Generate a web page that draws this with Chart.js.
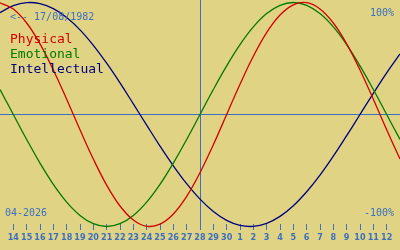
<!DOCTYPE html>
<html>
<head>
<meta charset="utf-8">
<script src="https://cdn.jsdelivr.net/npm/chart.js@4"></script>
<style>
body{margin:0;background:#e0d384;}
#wrap{position:relative;width:400px;height:250px;overflow:hidden;background:#e0d384;}
#graph{position:absolute;left:0;top:0;}
.txt{position:absolute;font-family:'DejaVu Sans Mono',monospace;font-size:10px;line-height:1;white-space:pre;color:#3b6fc2;}
#legend .txt{font-size:13px;}
</style>
</head>
<body>
<div id="wrap">
  <canvas id="graph" width="400" height="250"></canvas>
  <div class="txt" style="left:10px;top:12px">&lt;-- 17/08/1982</div>
  <div class="txt" style="right:6px;top:7.5px">100%</div>
  <div class="txt" style="right:6px;top:207.5px">-100%</div>
  <div class="txt" style="left:5px;top:207.5px">04-2026</div>
  <div id="legend"></div>
</div>
<script>
// days shown: 13 April .. 13 May 2026
const dayLabels = ['13','14','15','16','17','18','19','20','21','22','23','24','25','26','27','28','29','30',
    '1','2','3','4','5','6','7','8','9','10','11','12','13'];
const today = '28';

const physical = [0.998, 0.942, 0.817, 0.631, 0.398, 0.136, -0.136, -0.398, -0.631, -0.817, -0.942, -0.998,
    -0.979, -0.888, -0.731, -0.520, -0.270, 0, 0.270, 0.520, 0.731, 0.888, 0.979, 0.998, 0.942, 0.817,
    0.631, 0.398, 0.136, -0.136, -0.398];
const emotional = [0.223, 0, -0.223, -0.434, -0.624, -0.782, -0.901, -0.975, -1, -0.975, -0.901, -0.782,
    -0.624, -0.434, -0.223, 0, 0.223, 0.434, 0.624, 0.782, 0.901, 0.975, 1, 0.975, 0.901, 0.782, 0.624,
    0.434, 0.223, 0, -0.223];
const intellectual = [0.910, 0.972, 0.999, 0.990, 0.945, 0.866, 0.756, 0.618, 0.458, 0.282, 0.095, -0.095,
    -0.282, -0.458, -0.618, -0.756, -0.866, -0.945, -0.990, -0.999, -0.972, -0.910, -0.815, -0.690, -0.541,
    -0.372, -0.189, 0, 0.189, 0.372, 0.541];

const blue = '#3b6fc2';
const todayIdx = dayLabels.indexOf(today);

function line(label, data, color){
    return {
        label,
        data,
        borderColor: color,
        borderWidth: 1.3,
        pointRadius: 0,
        tension: 0.4,
        clip: false
    };
}

const canvas = document.querySelector('#graph');
const chart = new Chart(canvas.getContext('2d'), {
    type: 'line',
    data: {
        labels: dayLabels,
        datasets: [
            line('Physical', physical, '#d40000'),
            line('Emotional', emotional, '#007a00'),
            line('Intellectual', intellectual, '#00007f')
        ]
    },
    options: {
        responsive: false,
        animation: false,
        devicePixelRatio: 1,
        layout: {padding: 0},
        plugins: {legend: {display: false}, tooltip: {enabled: false}},
        scales: {
            x: {
                offset: false,
                border: {display: false},
                grid: {
                    color: c => (c.tick && c.tick.value === todayIdx) ? blue : 'rgba(0,0,0,0)',
                    tickColor: blue,
                    tickLength: 6,
                    lineWidth: 1
                },
                ticks: {
                    autoSkip: false,
                    maxRotation: 0,
                    padding: 2,
                    color: blue,
                    font: {family: 'DejaVu Sans Condensed', size: 9, weight: 'bold'}
                },
                afterBuildTicks: s => { s.ticks = s.ticks.slice(1, -1); },
                afterFit: s => { s.height = 26; }
            },
            y: {
                min: -0.9777,
                max: 1.0223,
                border: {display: false},
                grid: {color: blue, drawTicks: false, lineWidth: 1},
                ticks: {display: false},
                afterBuildTicks: s => { s.ticks = [{value: 0}]; },
                afterFit: s => { s.width = 0; }
            }
        }
    }
});

// series names, in the colour of each line
const legend = document.querySelector('#legend');
chart.data.datasets.forEach((ds, i) => {
    const el = document.createElement('div');
    el.className = 'txt';
    el.style.left = '10px';
    el.style.top = (32 + i * 15) + 'px';
    el.style.color = ds.borderColor;
    el.textContent = ds.label;
    legend.appendChild(el);
});
</script>
</body>
</html>
